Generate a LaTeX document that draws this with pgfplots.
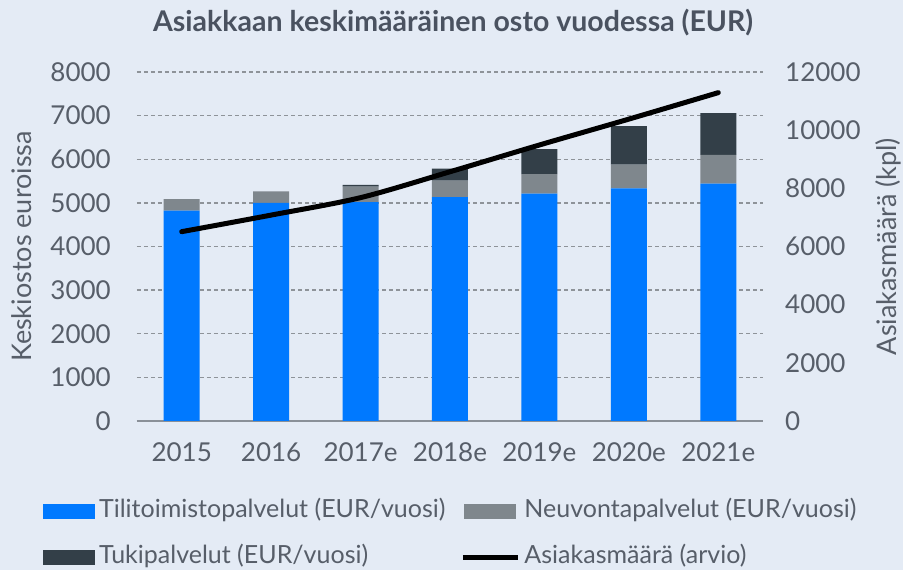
\documentclass[border=0pt]{standalone}
\usepackage{fontspec}
\setmainfont{Lato}
\usepackage{pgfplots}
\pgfplotsset{compat=1.18}
\definecolor{bg}{HTML}{E4EBF5}
\definecolor{cblue}{HTML}{0079FF}
\definecolor{cgray}{HTML}{7F878D}
\definecolor{cdark}{HTML}{333F48}
\definecolor{txt}{HTML}{575E69}
\definecolor{ttl}{HTML}{4A5260}
\definecolor{gridgray}{HTML}{8E9399}
\definecolor{axisgray}{HTML}{8A9098}
\begin{document}
\begin{tikzpicture}
\useasboundingbox (0pt,0pt) rectangle (903pt,570pt);
\fill[bg] (0pt,0pt) rectangle (903pt,570pt);
\node[text=ttl, font=\fontsize{28.5}{33}\selectfont\bfseries, anchor=base] at (453pt,538.5pt) {Asiakkaan keskimääräinen osto vuodessa (EUR)};
\begin{axis}[
  at={(137pt,149pt)}, anchor=south west,
  scale only axis, width=626pt, height=349pt,
  xmin=-0.5, xmax=6.5, ymin=0, ymax=8000,
  ybar stacked, bar width=36pt,
  xtick={0,...,6}, xticklabels={2015,2016,2017e,2018e,2019e,2020e,2021e},
  ytick={0,1000,...,8000},
  scaled y ticks=false,
  /pgf/number format/1000 sep={},
  /pgf/number format/assume math mode=true,
  axis x line*=bottom, axis y line*=left,
  x axis line style={draw=axisgray, line width=1.8pt, -},
  y axis line style={draw=none},
  major tick length=0pt, tick style={draw=none},
  ymajorgrids, grid style={gridgray, line width=1.3pt, dash pattern=on 4pt off 3pt},
  ticklabel style={font=\fontsize{26}{31}\selectfont, text=txt},
  yticklabel style={inner sep=0pt, xshift=-26pt},
  xticklabel style={inner sep=0pt, yshift=-21pt},
  ylabel={Keskiostos euroissa},
  ylabel style={at={(axis description cs:-0.1837,0.5)}, anchor=center, font=\fontsize{27}{32}\selectfont, text=txt},
  legend columns=2,
  legend cell align=left,
  legend style={at={(-0.150,-0.2240)}, anchor=north west, draw=none, fill=none,
    inner sep=0pt, outer sep=0pt, row sep=22pt,
    font=\fontsize{25}{30}\selectfont, text=txt,
    nodes={inner xsep=4pt, inner ysep=0pt, text height=18pt, text depth=6pt},
    /tikz/every even column/.append style={column sep=11pt}},
]
\addplot[fill=cblue, draw=none, legend image code/.code={\fill[cblue] (0pt,-7.5pt) rectangle (52pt,7.5pt);}]
  coordinates {(0,4820) (1,5000) (2,5020) (3,5130) (4,5210) (5,5330) (6,5440)};
\addlegendentry{Tilitoimistopalvelut (EUR/vuosi)}
\addplot[fill=cgray, draw=none, legend image code/.code={\fill[cgray] (0pt,-7.5pt) rectangle (52pt,7.5pt);}]
  coordinates {(0,265) (1,265) (2,355) (3,380) (4,450) (5,545) (6,660)};
\addlegendentry{Neuvontapalvelut (EUR/vuosi)}
\addplot[fill=cdark, draw=none, legend image code/.code={\fill[cdark] (0pt,-7.5pt) rectangle (52pt,7.5pt);}]
  coordinates {(0,0) (1,0) (2,40) (3,275) (4,570) (5,885) (6,955)};
\addlegendentry{Tukipalvelut (EUR/vuosi)}
\addlegendimage{legend image code/.code={\draw[black, line width=5pt] (-1pt,0pt) -- (54pt,0pt);}}
\addlegendentry{Asiakasmäärä (arvio)}
\end{axis}
\begin{axis}[
  at={(137pt,149pt)}, anchor=south west,
  scale only axis, width=626pt, height=349pt,
  xmin=-0.5, xmax=6.5, ymin=0, ymax=12000,
  ytick={0,2000,...,12000},
  scaled y ticks=false,
  /pgf/number format/1000 sep={},
  /pgf/number format/assume math mode=true,
  axis x line=none, axis y line*=right,
  y axis line style={draw=none},
  major tick length=0pt, tick style={draw=none},
  ticklabel style={font=\fontsize{26}{31}\selectfont, text=txt},
  yticklabel style={inner sep=0pt, xshift=22pt},
  ylabel={Asiakasmäärä (kpl)},
  ylabel style={at={(axis description cs:1.2,0.5)}, anchor=center, font=\fontsize{27}{32}\selectfont, text=txt},
]
\addplot[black, line width=5pt, smooth, line cap=round] coordinates {(0,6510) (1,7080) (2,7680) (3,8570) (4,9490) (5,10380) (6,11290)};
\end{axis}
\end{tikzpicture}
\end{document}
